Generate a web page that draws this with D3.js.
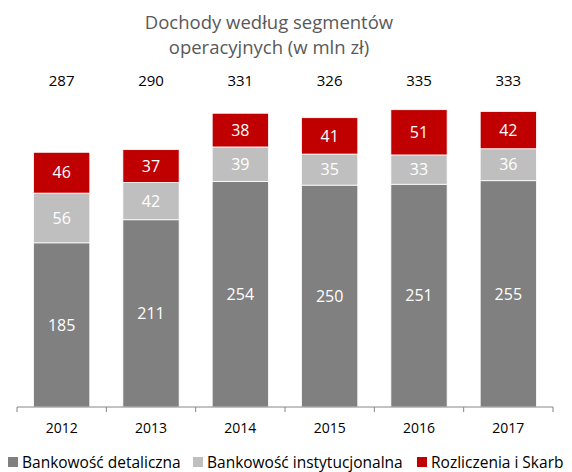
<!DOCTYPE html>
<html>
<head>
<meta charset="utf-8">
<script src="https://cdn.jsdelivr.net/npm/d3@7"></script>
<style>
  body { margin: 0; background: #fff; }
  text { font-family: "Open Sans", "DejaVu Sans", sans-serif; }
</style>
</head>
<body>
<svg id="chart" width="572" height="472"></svg>
<script>
// data
var years = ["2012", "2013", "2014", "2015", "2016", "2017"];
var detaliczna = [185, 211, 254, 250, 251, 255];
var instytucjonalna = [56, 42, 39, 35, 33, 36];
var rozliczenia = [46, 37, 38, 41, 51, 42];
var totals = [287, 290, 331, 326, 335, 333];
var seriesNames = ["Bankowość detaliczna", "Bankowość instytucjonalna", "Rozliczenia i Skarb"];
var colors = ["#808080", "#bfbfbf", "#c00000"];

var svg = d3.select("#chart");

var xScale = d3.scaleBand().domain(years).range([17, 553]).paddingInner(0.37).paddingOuter(0.185);
var yScale = d3.scaleLinear().domain([0, 400]).range([407, 52]);

// stack the data
var rows = years.map(function(y, i) {
  return { year: y, a: detaliczna[i], b: instytucjonalna[i], c: rozliczenia[i] };
});
var stack = d3.stack().keys(["a", "b", "c"]);
var layers = stack(rows);

// title
svg.append("text").attr("x", 269).attr("y", 29).attr("text-anchor", "middle")
  .attr("font-size", 18.5).attr("fill", "#595959").text("Dochody według segmentów");
svg.append("text").attr("x", 269).attr("y", 54).attr("text-anchor", "middle")
  .attr("font-size", 18.5).attr("fill", "#595959").text("operacyjnych (w mln zł)");

// bars
var layer = svg.selectAll(".layer").data(layers).enter().append("g")
  .attr("fill", function(d, i) { return colors[i]; });

layer.selectAll("rect").data(function(d) { return d; }).enter().append("rect")
  .attr("x", function(d) { return xScale(d.data.year); })
  .attr("width", xScale.bandwidth())
  .attr("y", function(d) { return yScale(d[1]); })
  .attr("height", function(d) { return yScale(d[0]) - yScale(d[1]); })
  .attr("stroke", "#ffffff").attr("stroke-width", 0.8);

// segment labels
layer.selectAll(".lbl").data(function(d) { return d; }).enter().append("text")
  .attr("class", "lbl")
  .attr("x", function(d) { return xScale(d.data.year) + xScale.bandwidth() / 2; })
  .attr("y", function(d) { return (yScale(d[0]) + yScale(d[1])) / 2; })
  .attr("dy", "0.36em")
  .attr("text-anchor", "middle")
  .attr("font-size", 16)
  .attr("fill", "#ffffff")
  .text(function(d) { return d[1] - d[0]; });

// totals row
svg.selectAll(".total").data(totals).enter().append("text")
  .attr("class", "total")
  .attr("x", function(d, i) { return xScale(years[i]) + xScale.bandwidth() / 2; })
  .attr("y", 81).attr("dy", "0.36em")
  .attr("text-anchor", "middle").attr("font-size", 15).attr("fill", "#000")
  .text(function(d) { return d; });

// x axis
var axisG = svg.append("g").attr("transform", "translate(0,407)");
axisG.append("line").attr("x1", 17).attr("x2", 553).attr("y1", 0).attr("y2", 0)
  .attr("stroke", "#868686").attr("stroke-width", 1);
var tickPos = years.map(function(y) { return xScale(y) - xScale.step() * xScale.paddingInner() / 2; });
tickPos.push(553);
axisG.selectAll(".tk").data(tickPos).enter().append("line")
  .attr("x1", function(d) { return d; }).attr("x2", function(d) { return d; })
  .attr("y1", 0).attr("y2", 5).attr("stroke", "#868686");
axisG.selectAll(".yr").data(years).enter().append("text")
  .attr("x", function(d) { return xScale(d) + xScale.bandwidth() / 2; })
  .attr("y", 21).attr("dy", "0.36em")
  .attr("text-anchor", "middle").attr("font-size", 14).attr("fill", "#000")
  .text(function(d) { return d; });

// legend
var legendX = [8, 193, 417];
var legend = svg.selectAll(".leg").data(seriesNames).enter().append("g")
  .attr("transform", function(d, i) { return "translate(" + legendX[i] + ",462)"; });
legend.append("rect").attr("x", 0).attr("y", -5).attr("width", 10).attr("height", 10)
  .attr("fill", function(d, i) { return colors[i]; });
legend.append("text").attr("x", 14).attr("y", 0).attr("dy", "0.36em")
  .attr("font-size", 15.5).attr("fill", "#000")
  .text(function(d) { return d; });
</script>
</body>
</html>
